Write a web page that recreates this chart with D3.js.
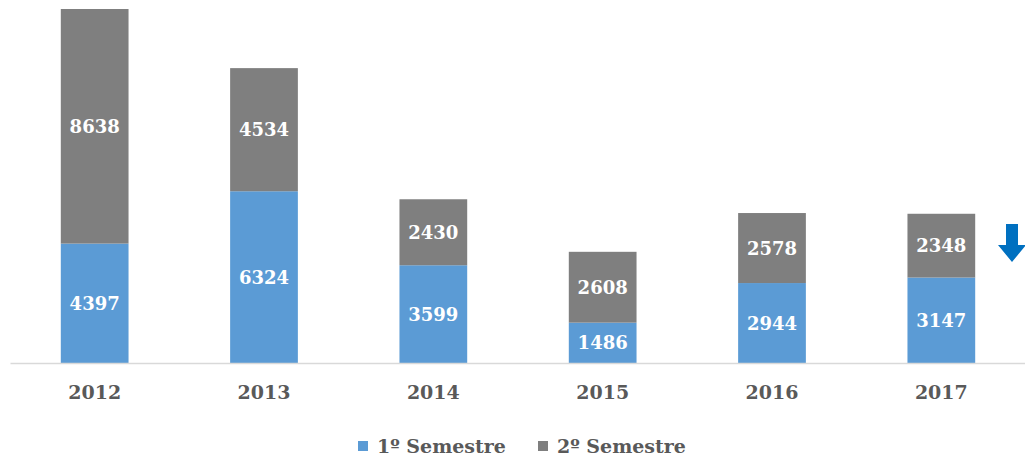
<!DOCTYPE html>
<html>
<head>
<meta charset="utf-8">
<script src="https://cdn.jsdelivr.net/npm/d3@7"></script>
<style>
  body { margin: 0; background: #fff; }
  text { font-family: "DejaVu Serif", serif; font-weight: bold; }
</style>
</head>
<body>
<div id="chart"></div>
<script>
// data
var years = ["2012", "2013", "2014", "2015", "2016", "2017"];
var sem1 = [4397, 6324, 3599, 1486, 2944, 3147];
var sem2 = [8638, 4534, 2430, 2608, 2578, 2348];
var seriesNames = ["1º Semestre", "2º Semestre"];
var seriesColors = ["#5B9BD5", "#7F7F7F"];

var width = 1025, height = 459;
var baseY = 363, topY = 9;

var svg = d3.select('#chart').append('svg')
  .attr('width', width)
  .attr('height', height);

var x = d3.scaleBand()
  .domain(years)
  .range([10, 1026])
  .paddingInner(0.6)
  .paddingOuter(0.3);

var y = d3.scaleLinear()
  .domain([0, sem1[0] + sem2[0]])
  .range([baseY, topY]);

// stack rows
var rows = years.map(function(yr, i) { return {year: yr, s1: sem1[i], s2: sem2[i]}; });
var stack = d3.stack().keys(["s1", "s2"]);
var layers = stack(rows);

var g = svg.selectAll('g.layer')
  .data(layers)
  .enter().append('g')
  .attr('class', 'layer')
  .attr('fill', function(d, i) { return seriesColors[i]; });

g.selectAll('rect')
  .data(function(d) { return d; })
  .enter().append('rect')
  .attr('x', function(d) { return x(d.data.year); })
  .attr('width', x.bandwidth())
  .attr('y', function(d) { return y(d[1]); })
  .attr('height', function(d) { return y(d[0]) - y(d[1]); });

// value labels
g.selectAll('text')
  .data(function(d) { return d; })
  .enter().append('text')
  .attr('x', function(d) { return x(d.data.year) + x.bandwidth() / 2; })
  .attr('y', function(d) { return (y(d[0]) + y(d[1])) / 2; })
  .attr('dy', '0.36em')
  .attr('text-anchor', 'middle')
  .attr('fill', '#fff')
  .style('font-size', '18px')
  .text(function(d) { return d[1] - d[0]; });

// x axis
var xAxis = svg.append('g')
  .attr('transform', 'translate(0,' + baseY + ')')
  .call(d3.axisBottom(x).tickSize(0).tickPadding(23));
xAxis.select('.domain').attr('stroke', '#D9D9D9').attr('stroke-width', 1.5);
xAxis.selectAll('text')
  .attr('fill', '#595959')
  .style('font-size', '19px')
  .style('font-family', '"DejaVu Serif", serif')
  .style('font-weight', 'bold');

// down arrow next to last bar
svg.append('path')
  .attr('d', 'M1006,224 L1018,224 L1018,245 L1026,245 L1012,262 L998,245 L1006,245 Z')
  .attr('fill', '#0070C0');

// legend
var legendX = [358, 538];
var legend = svg.selectAll('g.legend')
  .data(seriesNames)
  .enter().append('g')
  .attr('class', 'legend')
  .attr('transform', function(d, i) { return 'translate(' + legendX[i] + ',441)'; });

legend.append('rect')
  .attr('width', 10)
  .attr('height', 10)
  .attr('fill', function(d, i) { return seriesColors[i]; });

legend.append('text')
  .attr('x', 19)
  .attr('y', 5)
  .attr('dy', '0.36em')
  .attr('fill', '#595959')
  .style('font-size', '19px')
  .text(function(d) { return d; });
</script>
</body>
</html>
